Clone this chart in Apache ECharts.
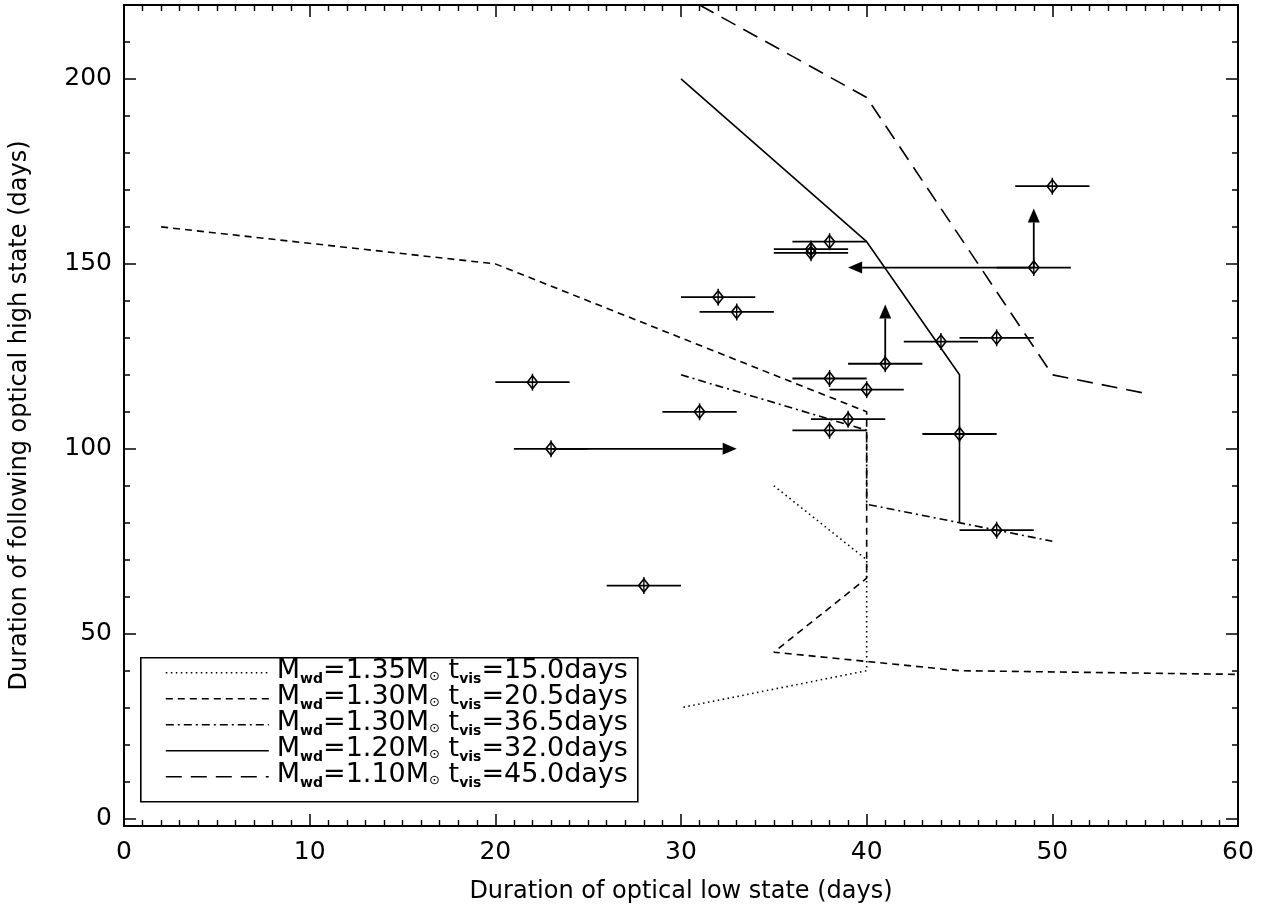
<!DOCTYPE html>
<html>
<head>
<meta charset="utf-8"/>
<title>Low/high state durations</title>
<script src="https://cdn.jsdelivr.net/npm/echarts@6.0.0/dist/echarts.min.js"></script>
</head>
<body style="margin:0;background:#fff">
<div id="main" style="width:1270px;height:915px;"></div>
<script type="text/javascript">
// observed points: [low state, high state, x error]
var obsPoints = [
    [22, 118, 2], [23, 100, 2], [28, 63, 2], [31, 110, 2], [32, 141, 2], [33, 137, 2],
    [37, 153, 2], [37, 154, 2], [38, 156, 2], [38, 119, 2], [38, 105, 2], [39, 108, 2],
    [40, 116, 2], [41, 123, 2], [44, 129, 2], [45, 104, 2], [47, 130, 2], [47, 78, 2],
    [49, 149, 2], [50, 171, 2]
];
// limits: [x0, y0, x1, y1]
var limitArrows = [
    [23, 100, 33, 100],
    [41, 123, 41, 139],
    [49, 149, 39, 149],
    [49, 149, 49, 165]
];
var model135_150 = [[35, 90], [40, 70], [40, 40], [30, 30]];
var model130_205 = [[2, 160], [20, 150], [40, 110], [40, 65], [35, 45], [45, 40], [60, 39]];
var model130_365 = [[30, 120], [40, 105], [40, 85], [50, 75]];
var model120_320 = [[30, 200], [40, 156], [45, 120], [45, 80]];
var model110_450 = [[31, 220], [40, 195], [50, 120], [55, 115]];
var legendMasses = ['1.35', '1.30', '1.30', '1.20', '1.10'];
var legendTimes = ['15.0', '20.5', '36.5', '32.0', '45.0'];
var legendDash = [[1.5, 3.5], [7, 5], [8, 4, 2, 4], 'solid', [16, 9]];

var myChart = echarts.init(document.getElementById('main'));
var font = 'DejaVu Sans';

function modelSeries(data, type) {
    return {
        type: 'line', data: data, symbol: 'none', silent: true,
        lineStyle: { color: '#000', width: 1.6, type: type }
    };
}

function yAxisDef(pos, values, len, labels) {
    return {
        type: 'value', position: pos, min: -2, max: 220,
        axisLine: { show: true, onZero: false, lineStyle: { color: '#000', width: 1.8 } },
        axisTick: { inside: true, length: len, customValues: values, lineStyle: { color: '#000', width: 1.5 } },
        axisLabel: labels ? { customValues: [0, 50, 100, 150, 200], color: '#000', fontSize: 25, fontFamily: font, margin: 12 } : { show: false },
        splitLine: { show: false },
        name: labels ? 'Duration of following optical high state (days)' : '',
        nameLocation: 'middle', nameGap: 92,
        nameTextStyle: { color: '#000', fontSize: 24, fontFamily: font }
    };
}
function xAxisDef(pos, labels) {
    return {
        type: 'value', position: pos, min: 0, max: 60, interval: 10,
        axisLine: { show: true, onZero: false, lineStyle: { color: '#000', width: 1.8 } },
        axisTick: { inside: true, length: 12, lineStyle: { color: '#000', width: 1.5 } },
        minorTick: { show: true, splitNumber: 10, length: 6, lineStyle: { color: '#000', width: 1.4 } },
        axisLabel: labels ? { color: '#000', fontSize: 25, fontFamily: font, margin: 14 } : { show: false },
        splitLine: { show: false },
        name: labels ? 'Duration of optical low state (days)' : '',
        nameLocation: 'middle', nameGap: 54,
        nameTextStyle: { color: '#000', fontSize: 24, fontFamily: font }
    };
}
var minorY = [10, 20, 30, 40, 60, 70, 80, 90, 110, 120, 130, 140, 160, 170, 180, 190, 210, 220];
var majorY = [0, 50, 100, 150, 200];

// legend as graphic
var legendChildren = [{
    type: 'rect', shape: { x: 0, y: 0, width: 497, height: 144 },
    style: { fill: '#fff', stroke: '#000', lineWidth: 1.6 }
}];
for (var i = 0; i < legendMasses.length; i++) {
    var ly = 15 + i * 26;
    legendChildren.push({
        type: 'line', shape: { x1: 25, y1: ly, x2: 128, y2: ly },
        style: { stroke: '#000', lineWidth: 1.6, lineDash: legendDash[i] }
    });
    legendChildren.push({
        type: 'text', x: 136, y: ly - 17,
        style: {
            text: 'M{s|wd}=' + legendMasses[i] + 'M{o|⊙} t{s|vis}=' + legendTimes[i] + 'days',
            fontSize: 27, fontFamily: font, fill: '#000',
            rich: { s: { fontSize: 14, fontFamily: font, fontWeight: 'bold', padding: [17, 0, 0, 0] }, o: { fontSize: 13, fontFamily: font, padding: [10, 0, 0, 0] } }
        }
    });
}

var option = {
    animation: false,
    backgroundColor: '#fff',
    grid: { left: 124, right: 32, top: 5, bottom: 89 },
    xAxis: [xAxisDef('bottom', true), xAxisDef('top', false)],
    yAxis: [
        yAxisDef('left', majorY, 12, true),
        yAxisDef('left', minorY, 6, false),
        yAxisDef('right', majorY, 12, false),
        yAxisDef('right', minorY, 6, false)
    ],
    graphic: [{ type: 'group', left: 140, top: 657, children: legendChildren }],
    series: [
        modelSeries(model135_150, [1.5, 3.5]),
        modelSeries(model130_205, [7, 5]),
        modelSeries(model130_365, [8, 4, 2, 4]),
        modelSeries(model120_320, 'solid'),
        modelSeries(model110_450, [16, 9]),
        {
            type: 'custom', data: limitArrows, silent: true,
            renderItem: function (params, api) {
                var a = api.coord([api.value(0), api.value(1)]);
                var b = api.coord([api.value(2), api.value(3)]);
                var dx = b[0] - a[0], dy = b[1] - a[1];
                var L = Math.sqrt(dx * dx + dy * dy);
                var ux = dx / L, uy = dy / L, h = 14, w = 6;
                var base = [b[0] - ux * h, b[1] - uy * h];
                return {
                    type: 'group', children: [
                        { type: 'line', shape: { x1: a[0], y1: a[1], x2: base[0], y2: base[1] }, style: { stroke: '#000', lineWidth: 1.8 } },
                        { type: 'polygon', shape: { points: [b, [base[0] - uy * w, base[1] + ux * w], [base[0] + uy * w, base[1] - ux * w]] }, style: { fill: '#000' } }
                    ]
                };
            }
        },
        {
            type: 'custom', data: obsPoints, silent: true,
            renderItem: function (params, api) {
                var x = api.value(0), y = api.value(1), e = api.value(2);
                var c = api.coord([x, y]);
                var l = api.coord([x - e, y]), r = api.coord([x + e, y]);
                var s = 6.5;
                return {
                    type: 'group', children: [
                        { type: 'line', shape: { x1: l[0], y1: l[1], x2: r[0], y2: r[1] }, style: { stroke: '#000', lineWidth: 1.8 } },
                        { type: 'polygon', shape: { points: [[c[0], c[1] - s], [c[0] + s * 0.8, c[1]], [c[0], c[1] + s], [c[0] - s * 0.8, c[1]]] }, style: { fill: 'none', stroke: '#000', lineWidth: 1.6 } },
                        { type: 'line', shape: { x1: c[0], y1: c[1] - s - 2, x2: c[0], y2: c[1] + s + 2 }, style: { stroke: '#000', lineWidth: 1.4 } }
                    ]
                };
            }
        }
    ]
};
myChart.setOption(option);
</script>
</body>
</html>
